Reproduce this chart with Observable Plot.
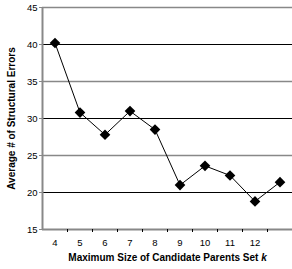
<!DOCTYPE html>
<html>
<head>
<meta charset="utf-8">
<script src="https://cdn.jsdelivr.net/npm/d3@7"></script>
<script src="https://cdn.jsdelivr.net/npm/@observablehq/plot@0.6"></script>
<style>
  html, body { margin: 0; padding: 0; background: #fff; }
  svg { display: block; }
</style>
</head>
<body>
<div id="chart"></div>
<script>
const kValues = [4, 5, 6, 7, 8, 9, 10, 11, 12, 13];
const errors = [40.2, 30.8, 27.8, 31.0, 28.5, 21.0, 23.6, 22.3, 18.8, 21.4];
const xTickLabels = [4, 5, 6, 7, 8, 9, 10, 11, 12];
const xTickMarks = [4.5, 5.5, 6.5, 7.5, 8.5, 9.5, 10.5, 11.5, 12.5];
const yTicks = [15, 20, 25, 30, 35, 40, 45];
const gridBlack = [40, 30, 20];
const gridGray = [45, 35, 25];
const xLabel = "Maximum Size of Candidate Parents Set k";
const yLabel = "Average # of Structural Errors";

const data = kValues.map((k, i) => ({k, e: errors[i]}));

const chart = Plot.plot({
  width: 292,
  height: 269,
  marginLeft: 42,
  marginRight: 0,
  marginTop: 7,
  marginBottom: 40,
  style: {fontFamily: "'Liberation Sans', Arial, sans-serif", fontSize: "9.5px", color: "#000", background: "#fff"},
  x: {domain: [3.5, 13.5]},
  y: {domain: [15, 45]},
  marks: [
    Plot.ruleY(gridGray, {stroke: "#888", strokeWidth: 1.5}),
    Plot.ruleY(gridBlack, {stroke: "#000", strokeWidth: 1}),
    Plot.ruleY([15], {stroke: "#888", strokeWidth: 2}),
    Plot.ruleX([3.5], {stroke: "#888", strokeWidth: 2}),
    Plot.axisY({ticks: yTicks, tickSize: 3, tickPadding: 2, label: null, stroke: "#888"}),
    Plot.axisX({ticks: xTickMarks, tickSize: 3, tickFormat: () => "", label: null, stroke: "#000"}),
    Plot.axisX({ticks: xTickLabels, tickSize: 0, tickPadding: 10, label: null}),
    Plot.line(data, {x: "k", y: "e", stroke: "#000", strokeWidth: 1}),
    Plot.dot(data, {x: "k", y: "e", symbol: "diamond2", r: 4.8, fill: "#000", stroke: "none"}),
    Plot.text([xLabel], {frameAnchor: "bottom", dy: 28, lineAnchor: "middle", textAnchor: "middle", fontWeight: "bold", fontSize: 10}),
    Plot.text([yLabel], {frameAnchor: "left", dx: -31, rotate: -90, lineAnchor: "middle", textAnchor: "middle", fontWeight: "bold", fontSize: 10})
  ]
});

// italic k in x label
chart.querySelectorAll("text").forEach(t => {
  if (t.textContent === xLabel) {
    const base = xLabel.slice(0, -1);
    t.textContent = "";
    const a = document.createElementNS("http://www.w3.org/2000/svg", "tspan");
    a.textContent = base;
    const b = document.createElementNS("http://www.w3.org/2000/svg", "tspan");
    b.textContent = "k";
    b.setAttribute("font-style", "italic");
    t.appendChild(a);
    t.appendChild(b);
  }
});

document.getElementById("chart").appendChild(chart);
</script>
</body>
</html>
